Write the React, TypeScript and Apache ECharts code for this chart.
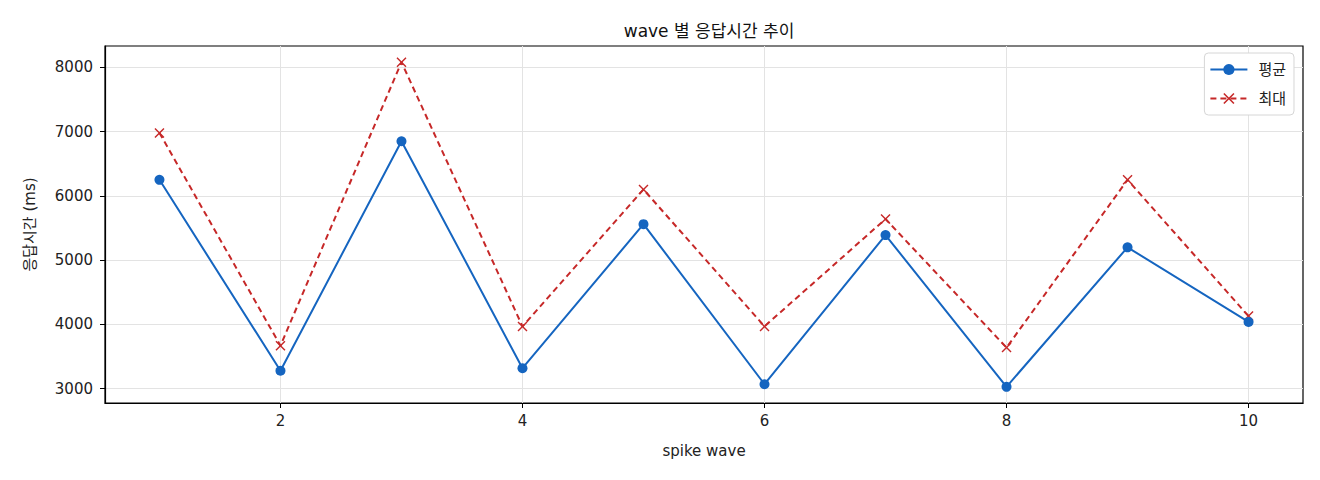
import { useEffect, useRef } from 'react';
import * as echarts from 'echarts';

const WAVES = [1, 2, 3, 4, 5, 6, 7, 8, 9, 10];
const AVG_MS = [6250, 3280, 6850, 3320, 5560, 3070, 5390, 3030, 5200, 4040];
const MAX_MS = [6980, 3670, 8080, 3970, 6100, 3970, 5640, 3640, 6250, 4130];
const X_TICKS = [2, 4, 6, 8, 10];
const Y_TICKS = [3000, 4000, 5000, 6000, 7000, 8000];

const BLUE = '#1565c0';
const RED = '#c62828';
const FONT = "'DejaVu Sans', 'Noto Sans CJK KR', sans-serif";
const X_MARK = 'path://M0,1L1,0L5,4L9,0L10,1L6,5L10,9L9,10L5,6L1,10L0,9L4,5Z';

export default function App() {
  const chartRef = useRef<HTMLDivElement>(null);

  useEffect(() => {
    document.body.style.margin = '0';
    if (!chartRef.current) return;
    const chart = echarts.init(chartRef.current, null, { renderer: 'svg' });

    const axisText = { color: '#222', fontSize: 15, fontFamily: FONT };

    const option: echarts.EChartsOption = {
      animation: false,
      backgroundColor: '#fff',
      title: {
        text: 'wave 별 응답시간 추이',
        left: 704,
        top: 17,
        textAlign: 'center',
        textStyle: { color: '#111', fontSize: 17, fontWeight: 'normal', fontFamily: FONT },
      },
      legend: {
        orient: 'vertical',
        right: 26,
        top: 53,
        padding: [9, 8, 9, 5],
        itemWidth: 37,
        itemHeight: 14,
        itemGap: 14,
        backgroundColor: '#fff',
        borderColor: '#d6d6d6',
        borderWidth: 1,
        borderRadius: 4,
        textStyle: { color: '#222', fontSize: 15, fontFamily: FONT, padding: [0, 0, 0, 6] },
        data: ['평균', '최대'],
      },
      grid: {
        left: 105,
        right: 17,
        top: 46,
        bottom: 77,
        show: true,
        borderColor: '#000',
        borderWidth: 1.2,
        backgroundColor: 'transparent',
      },
      xAxis: {
        type: 'value',
        min: 0.55,
        max: 10.45,
        name: 'spike wave',
        nameLocation: 'middle',
        nameGap: 40,
        nameTextStyle: axisText,
        axisLine: { show: true, onZero: false, lineStyle: { color: '#000', width: 1.2 } },
        axisTick: { show: true, length: 5, customValues: X_TICKS, lineStyle: { color: '#000' } },
        axisLabel: { ...axisText, margin: 10, customValues: X_TICKS },
        splitLine: { show: true, lineStyle: { color: '#e3e3e3', width: 1 } },
      },
      yAxis: {
        type: 'value',
        min: 2778,
        max: 8332,
        name: '응답시간 (ms)',
        nameLocation: 'middle',
        nameGap: 68,
        nameTextStyle: axisText,
        axisLine: { show: true, lineStyle: { color: '#000', width: 1.2 } },
        axisTick: { show: true, length: 5, customValues: Y_TICKS, lineStyle: { color: '#000' } },
        axisLabel: {
          ...axisText,
          margin: 12,
          customValues: Y_TICKS,
          formatter: (v: number) => String(v),
        },
        splitLine: { show: true, lineStyle: { color: '#e3e3e3', width: 1 } },
      },
      series: [
        {
          name: '평균',
          type: 'line',
          data: WAVES.map((w, i) => [w, AVG_MS[i]]),
          symbol: 'circle',
          symbolSize: 10,
          lineStyle: { color: BLUE, width: 2 },
          itemStyle: { color: BLUE },
          z: 3,
        },
        {
          name: '최대',
          type: 'line',
          data: WAVES.map((w, i) => [w, MAX_MS[i]]),
          symbol: X_MARK,
          symbolSize: 10,
          lineStyle: { color: RED, width: 2, type: [6, 4] },
          itemStyle: { color: RED },
          z: 2,
        },
      ],
    };

    chart.setOption(option);
    return () => chart.dispose();
  }, []);

  return <div ref={chartRef} style={{ width: 1320, height: 480 }} />;
}
